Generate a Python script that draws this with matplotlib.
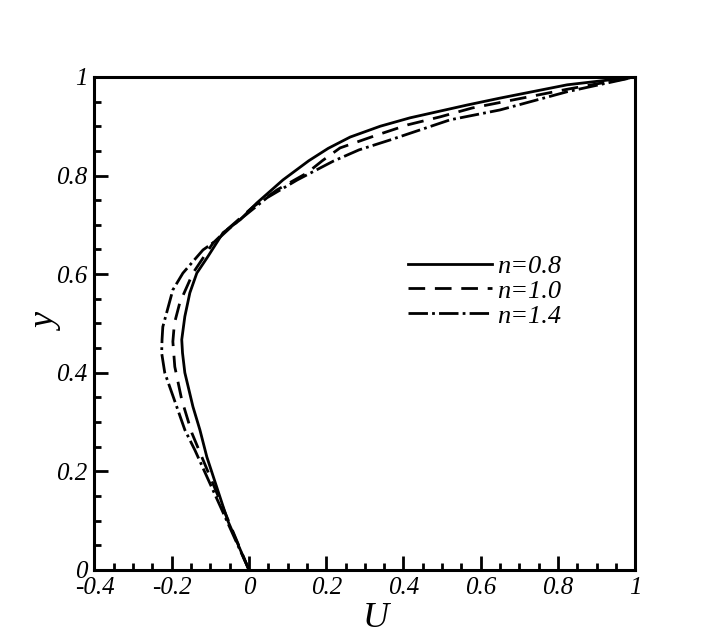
import numpy as np
import matplotlib
matplotlib.use('Agg')
import matplotlib.pyplot as plt
from matplotlib.ticker import MultipleLocator, FuncFormatter

# velocity profiles U(y)
y_08 = [0, 0.10, 0.229, 0.284, 0.331, 0.400, 0.440, 0.467, 0.514, 0.562, 0.602, 0.636,
        0.684, 0.710, 0.744, 0.791, 0.830, 0.855, 0.878, 0.900, 0.917, 0.943, 0.957, 0.984, 1.0]
U_08 = [0, -0.055, -0.109, -0.127, -0.145, -0.166, -0.172, -0.174, -0.166, -0.153, -0.135, -0.106,
        -0.067, -0.023, 0.020, 0.088, 0.155, 0.205, 0.262, 0.340, 0.417, 0.565, 0.650, 0.824, 1.0]

y_10 = [0, 0.229, 0.278, 0.345, 0.412, 0.463, 0.500, 0.542, 0.602, 0.663, 0.690,
        0.736, 0.771, 0.805, 0.830, 0.856, 0.882, 0.903, 0.919, 0.937, 0.975, 1.0]
U_10 = [0, -0.122, -0.148, -0.174, -0.192, -0.197, -0.193, -0.179, -0.145, -0.093, -0.057,
        0.010, 0.073, 0.150, 0.190, 0.236, 0.331, 0.412, 0.495, 0.578, 0.824, 1.0]

y_14 = [0, 0.243, 0.284, 0.331, 0.400, 0.440, 0.467, 0.493, 0.568, 0.602, 0.649,
        0.669, 0.700, 0.755, 0.791, 0.829, 0.852, 0.872, 0.913, 0.933, 0.970, 1.0]
U_14 = [0, -0.140, -0.166, -0.187, -0.218, -0.226, -0.225, -0.223, -0.197, -0.171, -0.119,
        -0.083, -0.040, 0.047, 0.125, 0.218, 0.285, 0.365, 0.521, 0.650, 0.824, 1.0]

labels = ['n=0.8', 'n=1.0', 'n=1.4']

serif = 'Liberation Serif'

fig = plt.figure(figsize=(7.21, 6.41), dpi=100)
ax = fig.add_axes([0.131, 0.111, 0.75, 0.769])

ax.plot(U_08, y_08, color='black', lw=2.0, ls='-', label=labels[0])
ax.plot(U_10, y_10, color='black', lw=2.0, ls=(0, (6, 3.5)), label=labels[1])
ax.plot(U_14, y_14, color='black', lw=2.0, ls=(0, (7, 1.5, 1, 1.5)), label=labels[2])

ax.set_xlim(-0.4, 1)
ax.set_ylim(0, 1)

ax.xaxis.set_major_locator(MultipleLocator(0.2))
ax.xaxis.set_minor_locator(MultipleLocator(0.05))
ax.yaxis.set_major_locator(MultipleLocator(0.2))
ax.yaxis.set_minor_locator(MultipleLocator(0.05))

fmt = FuncFormatter(lambda v, p: ('%g' % round(v, 2)))
ax.xaxis.set_major_formatter(fmt)
ax.yaxis.set_major_formatter(fmt)

ax.tick_params(which='both', direction='in', top=False, right=False, width=2)
ax.tick_params(which='major', length=10, pad=5)
ax.tick_params(which='minor', length=5)
for lab in ax.get_xticklabels() + ax.get_yticklabels():
    lab.set_fontfamily(serif)
    lab.set_fontstyle('italic')
    lab.set_fontsize(18)

for s in ax.spines.values():
    s.set_linewidth(2.2)

ax.set_xlabel('U', fontfamily=serif, fontstyle='italic', fontsize=26)
ax.set_ylabel('y', fontfamily=serif, fontstyle='italic', fontsize=26)
ax.xaxis.set_label_coords(0.52, -0.065)
ax.yaxis.set_label_coords(-0.057, 0.5)

leg = ax.legend(loc='upper left', bbox_to_anchor=(0.535, 0.688), frameon=False,
                handlelength=3.2, handletextpad=0.2, labelspacing=0.05,
                prop={'family': serif, 'style': 'italic', 'size': 19})

fig.savefig('out.png', dpi=100)
